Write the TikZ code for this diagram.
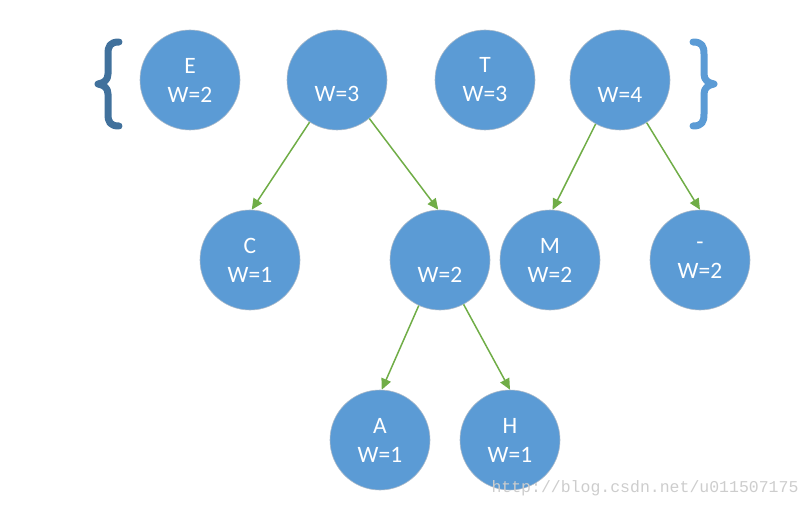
\documentclass[tikz,border=0pt]{standalone}
\usepackage{fontspec}
\setmainfont{Carlito}
\newfontfamily\wmfont{Liberation Mono}
\usetikzlibrary{arrows.meta}
\definecolor{nodeblue}{HTML}{5B9BD5}
\definecolor{nodeedge}{HTML}{A9B8C8}
\definecolor{darkbrace}{HTML}{41719C}
\definecolor{arrowgreen}{HTML}{70AD47}
\definecolor{wmgrey}{HTML}{CDCDCD}
\tikzset{
  tnode/.style={circle, minimum size=100pt, inner sep=0pt, fill=nodeblue, draw=nodeedge, line width=0.6pt,
    text=white, align=center, font=\fontsize{23.5}{29}\selectfont},
  tarrow/.style={draw=arrowgreen, line width=1.5pt, -{Triangle[length=11pt,width=10pt]}},
  bracepath/.style={line width=7pt, line cap=round, line join=round}
}
\begin{document}
\begin{tikzpicture}[x=1pt,y=-1pt]
\useasboundingbox (0,0) rectangle (812,508);
\node[tnode] (e) at (190,80) {E\\W=2};
\node[tnode] (w3) at (337,80) {\phantom{E}\\W=3};
\node[tnode] (t) at (485,80) {T\\W=3};
\node[tnode] (w4) at (620,80) {\phantom{E}\\W=4};
\node[tnode] (c) at (250,260) {C\\W=1};
\node[tnode] (w2) at (440,260) {\phantom{E}\\W=2};
\node[tnode] (m) at (550,260) {M\\W=2};
\node[tnode] (dash) at (700,260) {-\\W=2};
\node[tnode] (a) at (380,440) {A\\W=1};
\node[tnode] (h) at (510,440) {H\\W=1};
\draw[tarrow] (w3.237) -- (c.88);
\draw[tarrow] (w3.310) -- (w2.92);
\draw[tarrow] (w4.241) -- (m.87);
\draw[tarrow] (w4.302) -- (dash.90);
\draw[tarrow] (w2.245) -- (a.88);
\draw[tarrow] (w2.298) -- (h.90);
% braces
\draw[bracepath, draw=darkbrace] (119,42) .. controls (110,42) and (108,46) .. (108,54)
  -- (108,74) .. controls (108,80) and (104,83) .. (98,84)
  .. controls (104,85) and (108,88) .. (108,94) -- (108,114)
  .. controls (108,122) and (110,126) .. (119,126);
\draw[bracepath, draw=nodeblue] (693,42) .. controls (702,42) and (704,46) .. (704,54)
  -- (704,74) .. controls (704,80) and (708,83) .. (714,84)
  .. controls (708,85) and (704,88) .. (704,94) -- (704,114)
  .. controls (704,122) and (702,126) .. (693,126);
\node[text=wmgrey, font=\wmfont\fontsize{16.5}{18}\selectfont, anchor=east] (wm) at (802,488) {http://blog.csdn.net/u011507175};
\end{tikzpicture}
\end{document}
